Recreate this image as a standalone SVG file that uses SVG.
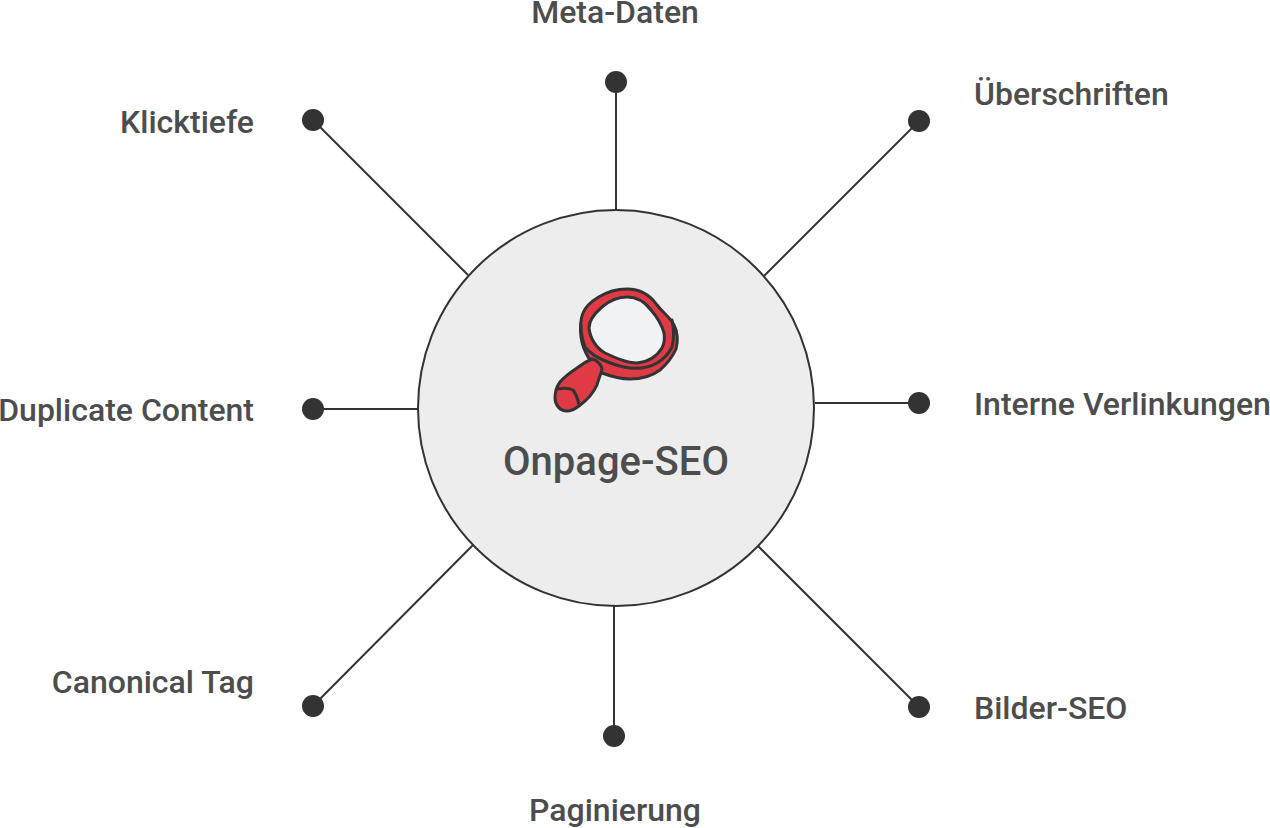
<svg xmlns="http://www.w3.org/2000/svg" width="1270" height="828" viewBox="0 0 1270 828">
<style>
text{font-family:Roboto,"Liberation Sans",sans-serif;font-weight:500;font-size:32px;fill:#4d4d4d}
.c{stroke:#333;stroke-width:2;fill:none}
.d{fill:#333}
.m{stroke:#333;stroke-width:3;stroke-linejoin:round;stroke-linecap:round}
</style>
<rect width="1270" height="828" fill="#fff"/>
<g id="connectors">
<path class="c" d="M616 82V210"/>
<path class="c" d="M919 121L764 276"/>
<path class="c" d="M919 403H815"/>
<path class="c" d="M919 707L757 545"/>
<path class="c" d="M614 736V606"/>
<path class="c" d="M313 706L473 545"/>
<path class="c" d="M313 409H418"/>
<path class="c" d="M313 120L468 275"/>
</g>
<g id="hub">
<circle cx="616" cy="408" r="198" fill="#ededed" stroke="#333" stroke-width="2"/>
<g id="magnifier">
<path class="m" fill="#e03a45" d="M627 289C640 289 650 295 657 305C663 313 670 317 674 325C678 332 678 342 676 349C672 358 667 364 660 370C652 376 642 379 630 379C620 379 610 376 602 373C592 365 583 352 581 337C580 328 580 320 583 313C587 303 605 289 627 289Z"/>
<path class="m" fill="none" d="M581 325C581 335 583 342 585 347C590 353 596 357 603 360C612 364 621 367 630 368C640 369 650 367 657 363C664 359 669 353 672 347C674 339 674 329 672 320"/>
<path class="m" fill="#f0f2f5" d="M627 297C637 297 645 302 651 310C657 317 662 325 664 333C665 339 664 344 662 348C657 356 648 362 637 363C627 363 616 358 605 353C596 348 590 338 589 328C589 320 595 313 602 307C609 301 618 297 627 297Z"/>
<path class="m" fill="#e03a45" d="M592 359C597 360 602 365 602 370C600 376 598 381 597 385C593 394 586 401 579 406C575 409 571 411 567 411C560 411 555 405 555 398C555 391 557 386 560 382C565 376 571 372 577 368C582 364 587 361 592 359Z"/>
<path class="m" fill="none" d="M558 389C563 388 569 388 573 390C576 394 578 400 579 405"/>
</g>
<text x="616" y="475" text-anchor="middle" style="font-size:40px">Onpage-SEO</text>
</g>
<g id="n1"><circle class="d" cx="616" cy="82" r="11"/><text x="615" y="23" text-anchor="middle">Meta-Daten</text></g>
<g id="n2"><circle class="d" cx="919" cy="121" r="11"/><text x="974" y="105">Überschriften</text></g>
<g id="n3"><circle class="d" cx="919" cy="403" r="11"/><text x="974" y="415">Interne Verlinkungen</text></g>
<g id="n4"><circle class="d" cx="919" cy="707" r="11"/><text x="974" y="719">Bilder-SEO</text></g>
<g id="n5"><circle class="d" cx="614" cy="736" r="11"/><text x="615" y="821" text-anchor="middle">Paginierung</text></g>
<g id="n6"><circle class="d" cx="313" cy="706" r="11"/><text x="254" y="693" text-anchor="end">Canonical Tag</text></g>
<g id="n7"><circle class="d" cx="313" cy="409" r="11"/><text x="254" y="421" text-anchor="end">Duplicate Content</text></g>
<g id="n8"><circle class="d" cx="313" cy="120" r="11"/><text x="254" y="133" text-anchor="end">Klicktiefe</text></g>
</svg>
